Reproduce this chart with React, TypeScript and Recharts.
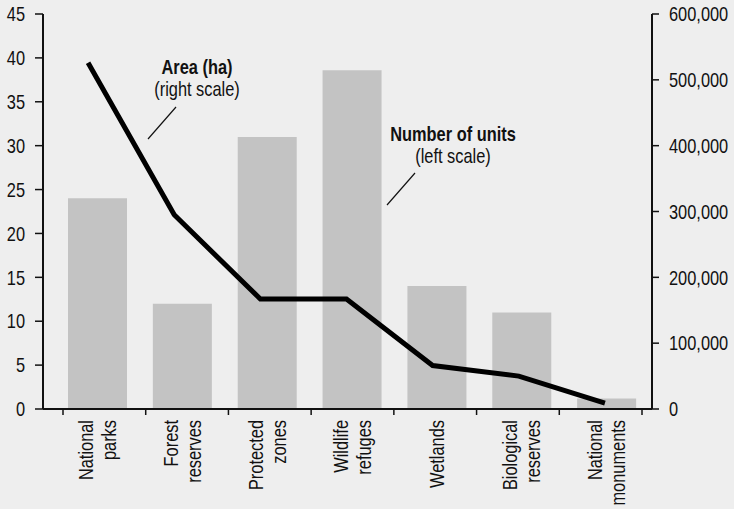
import { Bar, ComposedChart, Customized, Line, XAxis, YAxis } from 'recharts';

const categories = [
  'National\nparks',
  'Forest\nreserves',
  'Protected\nzones',
  'Wildlife\nrefuges',
  'Wetlands',
  'Biological\nreserves',
  'National\nmonuments',
];
// number of units, left scale
const units = [24, 12, 31, 38.6, 14, 11, 1.2];
// area in hectares, right scale
const areaHa = [526000, 295000, 167000, 167000, 66000, 50000, 9000];

const leftTicks = [0, 5, 10, 15, 20, 25, 30, 35, 40, 45];
const rightTicks = [0, 100000, 200000, 300000, 400000, 500000, 600000];
const boundaryTicks = [0, 1, 2, 3, 4, 5, 6, 7];

const data = categories.map((name, i) => ({
  idx: i,
  name,
  units: units[i],
  area: areaHa[i],
}));

// no narrow font installed, so squeeze Liberation Sans horizontally
const FONT = "'Liberation Sans', Arial, sans-serif";
const FS = 20;
const SQUEEZE = 0.82;
const INK = '#111111';

function NarrowText({ x, y, anchor, bold, rotate, dy, children }: any) {
  const rot = rotate ? ` rotate(${rotate})` : '';
  return (
    <text
      transform={`translate(${x},${y})${rot} scale(${SQUEEZE},1)`}
      textAnchor={anchor}
      dy={dy}
      fontSize={FS}
      fontFamily={FONT}
      fontWeight={bold ? 'bold' : 'normal'}
      fill={INK}
    >
      {children}
    </text>
  );
}

function CategoryTick(props: any) {
  const { x, y, payload } = props;
  const lines = String(payload.value).split('\n');
  const gap = 23;
  return (
    <g transform={`translate(${x},${y}) rotate(-90)`}>
      {lines.map((ln, i) => (
        <NarrowText key={i} x={0} y={(i - (lines.length - 1) / 2) * gap} anchor="end" dy="0.36em">
          {ln}
        </NarrowText>
      ))}
    </g>
  );
}

function LeftTick(props: any) {
  const { x, y, payload } = props;
  return (
    <NarrowText x={x} y={y} anchor="end" dy="0.36em">
      {payload.value}
    </NarrowText>
  );
}

function RightTick(props: any) {
  const { x, y, payload } = props;
  return (
    <NarrowText x={x} y={y} anchor="start" dy="0.36em">
      {Number(payload.value).toLocaleString('en-US')}
    </NarrowText>
  );
}

function Notes() {
  return (
    <g>
      <NarrowText x={197} y={74} anchor="middle" bold>Area (ha)</NarrowText>
      <NarrowText x={197} y={96} anchor="middle">(right scale)</NarrowText>
      <line x1={176} y1={107} x2={148} y2={139} stroke={INK} strokeWidth={1.2} />
      <NarrowText x={453} y={141} anchor="middle" bold>Number of units</NarrowText>
      <NarrowText x={453} y={163} anchor="middle">(left scale)</NarrowText>
      <line x1={415} y1={173} x2={387} y2={205} stroke={INK} strokeWidth={1.2} />
    </g>
  );
}

export default function App() {
  return (
    <div style={{ position: 'fixed', left: 0, top: 0, width: 734, height: 509, background: '#eeeeee' }}>
      <ComposedChart width={734} height={509} data={data} margin={{ top: 14, right: 0, bottom: 0, left: 0 }}>
        <XAxis
          xAxisId="cat"
          dataKey="name"
          padding={{ left: 12, right: 3 }}
          height={99}
          interval={0}
          axisLine={false}
          tickLine={false}
          tickSize={0}
          tickMargin={10}
          tick={<CategoryTick />}
        />
        <XAxis
          xAxisId="axis0"
          type="number"
          dataKey="idx"
          domain={[0, 7]}
          ticks={boundaryTicks}
          allowDataOverflow
          padding={{ left: 20, right: 10 }}
          height={1}
          tick={() => <g />}
          tickSize={6}
          axisLine={{ stroke: INK, strokeWidth: 2 }}
          tickLine={{ stroke: INK, strokeWidth: 1.5 }}
        />
        <XAxis xAxisId="line" dataKey="name" hide padding={{ left: 2, right: 4 }} />
        <YAxis
          yAxisId="left"
          domain={[0, 45]}
          ticks={leftTicks}
          width={43}
          tickSize={8}
          tickMargin={10}
          interval={0}
          axisLine={{ stroke: INK, strokeWidth: 2 }}
          tickLine={{ stroke: INK, strokeWidth: 1.5 }}
          tick={<LeftTick />}
        />
        <YAxis
          yAxisId="right"
          orientation="right"
          domain={[0, 600000]}
          ticks={rightTicks}
          width={82}
          tickSize={7}
          tickMargin={10}
          interval={0}
          axisLine={{ stroke: INK, strokeWidth: 2 }}
          tickLine={{ stroke: INK, strokeWidth: 1.5 }}
          tick={<RightTick />}
        />
        <Bar
          xAxisId="cat"
          yAxisId="left"
          dataKey="units"
          fill="#c3c3c3"
          barSize={59}
          isAnimationActive={false}
        />
        <Line
          xAxisId="line"
          yAxisId="right"
          dataKey="area"
          type="linear"
          stroke="#000000"
          strokeWidth={5}
          dot={false}
          activeDot={false}
          isAnimationActive={false}
        />
        <Customized component={Notes} />
      </ComposedChart>
    </div>
  );
}
